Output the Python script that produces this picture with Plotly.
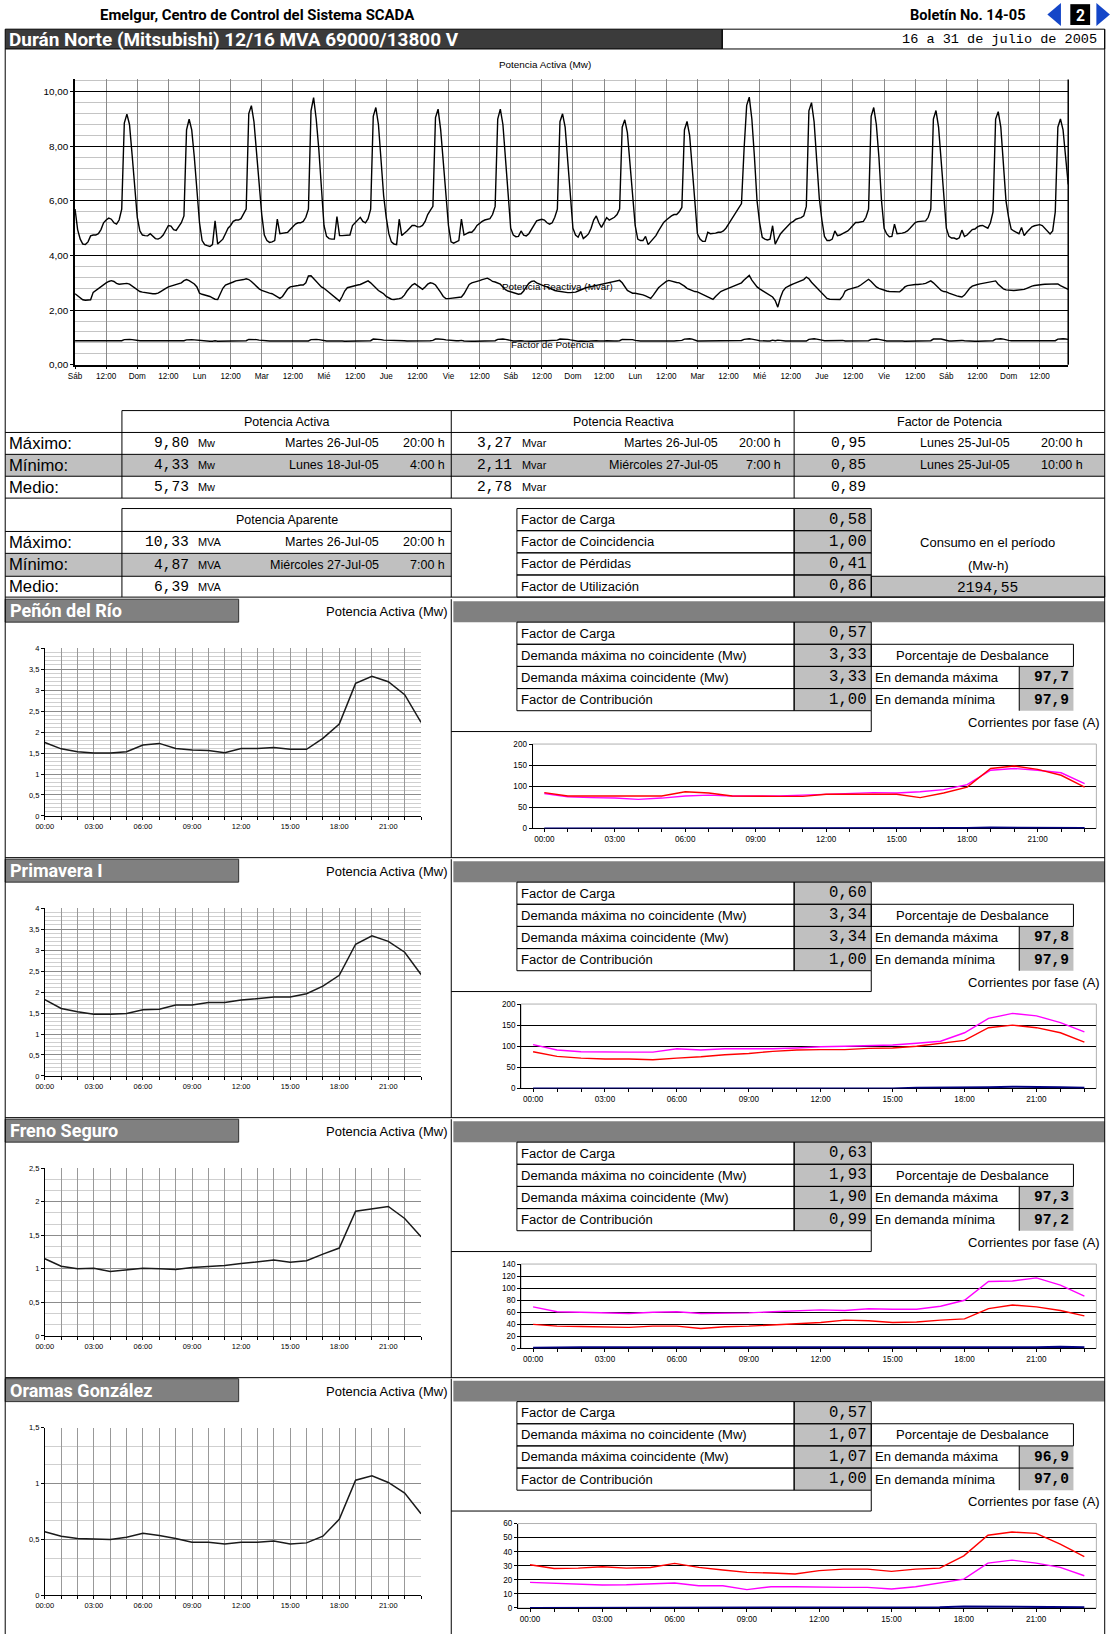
import plotly.graph_objects as go

# ============================ DATA ============================
weekday_labels = ["Sáb", "Dom", "Lun", "Mar", "Mié", "Jue", "Vie",
                  "Sáb", "Dom", "Lun", "Mar", "Mié", "Jue", "Vie", "Sáb", "Dom"]
noon_label = "12:00"

# hourly, 16 Jul 00:00 .. 31 Jul 23:00 (one row per day)
active_mw = [
    5.70, 4.95, 4.60, 4.42, 4.40, 4.50, 4.72, 4.75, 4.75, 4.80, 4.95, 5.20, 5.30, 5.37, 5.33, 5.20, 5.15, 5.30, 5.70, 8.85, 9.18, 8.80, 7.70, 6.40,
    5.40, 4.90, 4.75, 4.73, 4.72, 4.80, 4.70, 4.62, 4.60, 4.65, 4.75, 4.90, 5.10, 5.08, 4.95, 4.92, 5.05, 5.20, 5.45, 8.60, 8.99, 8.60, 7.60, 6.30,
    5.20, 4.55, 4.40, 4.36, 4.33, 4.40, 5.27, 4.42, 4.50, 4.60, 4.80, 5.00, 5.10, 5.25, 5.30, 5.30, 5.35, 5.50, 5.70, 9.20, 9.49, 8.90, 7.80, 6.40,
    5.50, 4.75, 4.55, 4.48, 4.50, 4.55, 5.33, 4.80, 4.82, 4.85, 4.85, 4.95, 5.05, 5.15, 5.20, 5.20, 5.25, 5.40, 5.70, 9.30, 9.78, 9.00, 7.90, 6.40,
    5.10, 4.70, 4.62, 4.60, 4.60, 5.43, 4.73, 4.73, 4.73, 4.73, 4.75, 5.10, 5.20, 5.30, 5.40, 5.25, 5.20, 5.35, 5.70, 9.10, 9.42, 8.80, 7.60, 6.20,
    5.40, 4.80, 4.50, 4.42, 4.40, 5.33, 4.73, 4.80, 4.90, 5.00, 5.10, 5.10, 5.05, 5.05, 5.10, 5.25, 5.50, 5.65, 5.80, 9.05, 9.36, 8.60, 7.40, 6.00,
    5.10, 4.50, 4.45, 4.50, 4.55, 5.33, 4.75, 4.80, 4.85, 4.85, 4.95, 5.10, 5.18, 5.25, 5.30, 5.33, 5.35, 5.50, 5.80, 9.00, 9.36, 8.80, 7.60, 6.20,
    5.00, 4.75, 4.69, 4.70, 4.90, 4.75, 4.72, 4.80, 4.95, 5.15, 5.27, 5.30, 5.33, 5.30, 5.20, 5.15, 5.20, 5.40, 5.70, 8.90, 9.19, 8.70, 7.50, 6.10,
    5.00, 4.75, 4.67, 4.88, 4.62, 4.70, 4.79, 5.00, 5.30, 5.45, 5.20, 5.03, 5.20, 5.39, 5.30, 5.35, 5.40, 5.50, 5.70, 8.70, 8.97, 8.50, 7.40, 6.00,
    5.10, 4.60, 4.55, 4.55, 4.70, 4.40, 4.50, 4.60, 4.73, 4.90, 5.05, 5.21, 5.30, 5.38, 5.45, 5.50, 5.50, 5.60, 5.76, 8.60, 8.91, 8.40, 7.30, 5.90,
    4.80, 4.60, 4.52, 4.52, 4.85, 4.80, 4.80, 4.82, 4.85, 4.85, 4.90, 5.00, 5.15, 5.30, 5.45, 5.60, 5.75, 5.90, 7.90, 9.50, 9.80, 9.00, 7.60, 6.00,
    5.20, 4.67, 4.60, 4.57, 4.60, 5.09, 4.42, 4.60, 4.79, 4.90, 5.00, 5.10, 5.20, 5.25, 5.33, 5.36, 5.39, 5.45, 5.80, 9.30, 9.60, 8.90, 7.60, 6.10,
    5.30, 4.70, 4.55, 4.55, 4.60, 4.90, 4.73, 4.75, 4.80, 4.85, 4.90, 5.00, 5.10, 5.21, 5.21, 5.22, 5.25, 5.40, 5.70, 9.10, 9.42, 8.80, 7.60, 6.00,
    5.00, 4.79, 4.69, 4.70, 5.15, 4.80, 4.80, 4.82, 4.85, 4.90, 5.00, 5.10, 5.21, 5.24, 5.25, 5.27, 5.27, 5.40, 5.70, 9.00, 9.31, 8.70, 7.50, 6.00,
    5.00, 4.70, 4.64, 4.64, 4.60, 4.65, 4.93, 4.70, 4.75, 4.85, 4.95, 4.97, 5.05, 5.09, 5.10, 5.05, 5.00, 5.20, 5.60, 9.00, 9.27, 8.70, 7.50, 6.00,
    5.40, 4.97, 4.90, 4.85, 4.80, 5.03, 4.73, 4.85, 4.95, 5.05, 5.09, 5.12, 5.13, 5.10, 5.00, 4.90, 4.79, 4.90, 5.60, 8.70, 9.00, 8.60, 7.50, 6.60,
]

reactive_mvar = [
    2.60, 2.52, 2.45, 2.38, 2.36, 2.37, 2.38, 2.65, 2.72, 2.82, 2.88, 2.95, 3.00, 3.05, 3.08, 3.05, 2.98, 2.95, 2.96, 2.97, 2.98, 2.95, 2.88, 2.82,
    2.72, 2.68, 2.66, 2.64, 2.62, 2.60, 2.60, 2.60, 2.62, 2.68, 2.75, 2.80, 2.85, 2.88, 2.92, 2.95, 2.98, 3.00, 3.08, 3.12, 3.08, 3.02, 2.96, 2.85,
    2.62, 2.58, 2.56, 2.54, 2.50, 2.45, 2.40, 2.39, 2.60, 2.80, 2.92, 2.95, 3.00, 3.03, 3.07, 3.08, 3.10, 3.12, 3.15, 3.12, 3.05, 2.95, 2.85, 2.78,
    2.72, 2.68, 2.65, 2.62, 2.60, 2.55, 2.48, 2.43, 2.50, 2.65, 2.78, 2.85, 2.86, 2.88, 2.90, 2.92, 2.92, 3.00, 3.25, 3.26, 3.15, 3.05, 2.92, 2.85,
    2.80, 2.72, 2.65, 2.58, 2.50, 2.42, 2.33, 2.50, 2.70, 2.82, 2.85, 2.88, 2.90, 2.92, 2.94, 2.98, 3.02, 3.07, 3.00, 2.90, 2.80, 2.72, 2.66, 2.60,
    2.50, 2.45, 2.40, 2.39, 2.40, 2.42, 2.45, 2.55, 2.70, 2.82, 2.92, 2.97, 2.90, 2.80, 2.76, 2.85, 2.95, 3.00, 2.98, 2.92, 2.80, 2.65, 2.50, 2.42,
    2.42, 2.43, 2.44, 2.45, 2.46, 2.48, 2.60, 2.80, 2.94, 3.00, 3.02, 3.05, 3.08, 3.12, 3.15, 3.17, 3.12, 3.05, 3.03, 3.00, 2.95, 2.85, 2.75, 2.70,
    2.67, 2.64, 2.60, 2.58, 2.60, 2.70, 2.85, 2.98, 3.05, 3.07, 3.00, 2.95, 2.90, 2.88, 2.85, 2.80, 2.75, 2.72, 2.70, 2.68, 2.66, 2.64, 2.64, 2.64,
    2.64, 2.66, 2.70, 2.75, 2.80, 2.82, 2.84, 2.86, 2.88, 2.90, 2.92, 2.94, 2.96, 2.98, 3.00, 3.02, 3.05, 3.08, 3.09, 3.00, 2.85, 2.72, 2.67, 2.62,
    2.62, 2.60, 2.60, 2.56, 2.52, 2.47, 2.43, 2.55, 2.70, 2.82, 2.90, 2.98, 3.05, 3.09, 3.06, 3.03, 3.01, 3.00, 2.95, 2.88, 2.80, 2.75, 2.70, 2.68,
    2.67, 2.62, 2.58, 2.52, 2.47, 2.42, 2.39, 2.50, 2.60, 2.68, 2.72, 2.76, 2.80, 2.84, 2.88, 2.90, 2.94, 3.00, 3.10, 3.20, 3.27, 3.10, 2.95, 2.85,
    2.78, 2.72, 2.67, 2.60, 2.55, 2.48, 2.35, 2.11, 2.45, 2.70, 2.82, 2.88, 2.92, 2.96, 3.00, 3.04, 3.07, 3.12, 3.21, 3.15, 3.02, 2.92, 2.82, 2.72,
    2.60, 2.50, 2.43, 2.40, 2.40, 2.39, 2.39, 2.39, 2.50, 2.70, 2.75, 2.78, 2.80, 2.82, 2.86, 2.92, 2.98, 3.05, 3.13, 3.05, 2.95, 2.85, 2.80, 2.76,
    2.72, 2.70, 2.68, 2.68, 2.67, 2.67, 2.67, 2.75, 2.85, 2.90, 2.92, 2.93, 2.94, 2.94, 2.94, 2.96, 2.98, 3.02, 3.07, 3.00, 2.90, 2.80, 2.72, 2.68,
    2.67, 2.62, 2.58, 2.55, 2.52, 2.50, 2.48, 2.55, 2.70, 2.80, 2.88, 2.92, 2.94, 2.96, 2.98, 3.00, 3.02, 3.04, 3.06, 3.07, 2.95, 2.85, 2.78, 2.74,
    2.73, 2.72, 2.72, 2.73, 2.74, 2.75, 2.76, 2.80, 2.85, 2.88, 2.90, 2.92, 2.94, 2.94, 2.95, 2.95, 2.94, 2.94, 2.94, 2.96, 2.90, 2.85, 2.80, 2.76,
]

power_factor = [
    0.88, 0.88, 0.87, 0.87, 0.87, 0.87, 0.87, 0.87, 0.87, 0.87, 0.86, 0.86, 0.87, 0.87, 0.87, 0.87, 0.87, 0.87, 0.88, 0.92, 0.93, 0.93, 0.92, 0.90,
    0.89, 0.88, 0.88, 0.88, 0.88, 0.88, 0.88, 0.88, 0.87, 0.87, 0.87, 0.87, 0.87, 0.87, 0.87, 0.86, 0.86, 0.87, 0.88, 0.91, 0.92, 0.92, 0.91, 0.90,
    0.89, 0.87, 0.86, 0.86, 0.86, 0.86, 0.88, 0.86, 0.86, 0.86, 0.86, 0.86, 0.86, 0.86, 0.87, 0.87, 0.87, 0.87, 0.88, 0.93, 0.93, 0.93, 0.92, 0.90,
    0.89, 0.87, 0.87, 0.87, 0.87, 0.87, 0.88, 0.87, 0.87, 0.87, 0.87, 0.87, 0.87, 0.87, 0.87, 0.87, 0.87, 0.87, 0.87, 0.92, 0.93, 0.93, 0.92, 0.90,
    0.88, 0.87, 0.87, 0.87, 0.88, 0.89, 0.88, 0.87, 0.86, 0.86, 0.86, 0.87, 0.87, 0.87, 0.87, 0.87, 0.86, 0.86, 0.88, 0.94, 0.94, 0.94, 0.92, 0.90,
    0.90, 0.89, 0.88, 0.88, 0.88, 0.89, 0.88, 0.88, 0.87, 0.87, 0.87, 0.86, 0.87, 0.87, 0.88, 0.88, 0.88, 0.88, 0.89, 0.94, 0.94, 0.94, 0.93, 0.91,
    0.90, 0.88, 0.88, 0.88, 0.88, 0.89, 0.87, 0.86, 0.86, 0.86, 0.86, 0.86, 0.86, 0.86, 0.86, 0.86, 0.86, 0.87, 0.88, 0.93, 0.94, 0.94, 0.93, 0.91,
    0.88, 0.87, 0.87, 0.88, 0.88, 0.87, 0.86, 0.86, 0.86, 0.86, 0.87, 0.87, 0.88, 0.88, 0.88, 0.88, 0.88, 0.89, 0.90, 0.94, 0.94, 0.94, 0.93, 0.91,
    0.89, 0.87, 0.86, 0.87, 0.86, 0.86, 0.86, 0.87, 0.88, 0.88, 0.87, 0.86, 0.87, 0.88, 0.87, 0.87, 0.87, 0.87, 0.88, 0.93, 0.93, 0.94, 0.93, 0.92,
    0.89, 0.87, 0.87, 0.87, 0.88, 0.87, 0.87, 0.87, 0.86, 0.86, 0.85, 0.86, 0.86, 0.86, 0.87, 0.87, 0.88, 0.88, 0.89, 0.94, 0.95, 0.95, 0.94, 0.91,
    0.87, 0.87, 0.87, 0.87, 0.89, 0.89, 0.89, 0.88, 0.88, 0.88, 0.87, 0.87, 0.88, 0.88, 0.88, 0.89, 0.89, 0.89, 0.93, 0.95, 0.95, 0.94, 0.93, 0.90,
    0.88, 0.87, 0.86, 0.87, 0.87, 0.90, 0.88, 0.90, 0.89, 0.87, 0.87, 0.87, 0.87, 0.87, 0.87, 0.87, 0.87, 0.87, 0.87, 0.93, 0.95, 0.95, 0.94, 0.91,
    0.90, 0.88, 0.88, 0.88, 0.89, 0.90, 0.89, 0.89, 0.89, 0.87, 0.87, 0.87, 0.88, 0.88, 0.88, 0.87, 0.87, 0.87, 0.88, 0.93, 0.94, 0.94, 0.93, 0.91,
    0.88, 0.87, 0.87, 0.87, 0.89, 0.87, 0.87, 0.87, 0.86, 0.86, 0.86, 0.86, 0.87, 0.87, 0.87, 0.87, 0.87, 0.87, 0.88, 0.94, 0.95, 0.94, 0.94, 0.91,
    0.88, 0.87, 0.87, 0.88, 0.88, 0.88, 0.89, 0.88, 0.87, 0.87, 0.86, 0.86, 0.86, 0.86, 0.86, 0.86, 0.86, 0.86, 0.88, 0.94, 0.95, 0.95, 0.94, 0.91,
    0.89, 0.88, 0.88, 0.87, 0.87, 0.88, 0.86, 0.87, 0.87, 0.87, 0.87, 0.87, 0.87, 0.87, 0.86, 0.86, 0.86, 0.86, 0.88, 0.94, 0.95, 0.95, 0.94, 0.93,
]

# summary tables
summary_row_labels = ["Máximo:", "Mínimo:", "Medio:"]
activa_values = [9.80, 4.33, 5.73]
activa_dates = ["Martes 26-Jul-05", "Lunes 18-Jul-05", ""]
activa_times = ["20:00 h", "4:00 h", ""]
reactiva_values = [3.27, 2.11, 2.78]
reactiva_dates = ["Martes 26-Jul-05", "Miércoles 27-Jul-05", ""]
reactiva_times = ["20:00 h", "7:00 h", ""]
fp_values = [0.95, 0.85, 0.89]
fp_dates = ["Lunes 25-Jul-05", "Lunes 25-Jul-05", ""]
fp_times = ["20:00 h", "10:00 h", ""]
aparente_values = [10.33, 4.87, 6.39]
aparente_dates = ["Martes 26-Jul-05", "Miércoles 27-Jul-05", ""]
aparente_times = ["20:00 h", "7:00 h", ""]
factor_labels = ["Factor de Carga", "Factor de Coincidencia", "Factor de Pérdidas", "Factor de Utilización"]
factor_values = [0.58, 1.00, 0.41, 0.86]
consumo_mwh = 2194.55

# feeders
feeder_names = ["Peñón del Río", "Primavera I", "Freno Seguro", "Oramas González"]
feeder_stat_labels = ["Factor de Carga", "Demanda máxima no coincidente (Mw)",
                      "Demanda máxima coincidente (Mw)", "Factor de Contribución"]
feeder_factor_carga = [0.57, 0.60, 0.63, 0.57]
feeder_dem_no_coinc = [3.33, 3.34, 1.93, 1.07]
feeder_dem_coinc = [3.33, 3.34, 1.90, 1.07]
feeder_factor_contrib = [1.00, 1.00, 0.99, 1.00]
feeder_desb_max = [97.7, 97.8, 97.3, 96.9]
feeder_desb_min = [97.9, 97.9, 97.2, 97.0]

hours_of_day = list(range(24))
hour_tick_labels = ["00:00", "03:00", "06:00", "09:00", "12:00", "15:00", "18:00", "21:00"]

penon_mw = [1.75, 1.60, 1.53, 1.50, 1.50, 1.53, 1.69, 1.73, 1.61, 1.57, 1.56, 1.51,
            1.61, 1.61, 1.63, 1.59, 1.59, 1.85, 2.19, 3.16, 3.33, 3.20, 2.89, 2.23]
primavera_mw = [1.82, 1.61, 1.53, 1.47, 1.47, 1.49, 1.58, 1.59, 1.69, 1.69, 1.75, 1.75,
                1.81, 1.85, 1.88, 1.88, 1.96, 2.14, 2.40, 3.14, 3.34, 3.21, 2.95, 2.42]
freno_mw = [1.15, 1.04, 1.00, 1.01, 0.96, 0.99, 1.01, 1.00, 0.99, 1.02, 1.03, 1.05,
            1.08, 1.11, 1.13, 1.10, 1.12, 1.22, 1.31, 1.86, 1.90, 1.93, 1.75, 1.48]
oramas_mw = [0.57, 0.53, 0.51, 0.505, 0.50, 0.52, 0.555, 0.535, 0.51, 0.475, 0.475, 0.46,
             0.475, 0.475, 0.487, 0.46, 0.47, 0.53, 0.68, 1.03, 1.07, 1.01, 0.915, 0.73]

penon_i_red = [85, 77, 77, 77, 77, 77, 87, 84, 77, 76, 76, 76, 81, 81, 81, 81, 73, 84, 98, 142, 148, 140, 126, 98]
penon_i_mag = [83, 75, 73, 72, 69, 72, 77, 79, 77, 77, 77, 79, 81, 83, 85, 84, 87, 92, 104, 138, 142, 138, 132, 106]
penon_i_blue = [0, 0, 0, 0, 0, 0, 0, 0, 0, 0, 0, 0, 0, 0, 0, 0, 0, 1, 1, 2, 2, 2, 2, 1]
primavera_i_red = [87, 76, 72, 70, 70, 68, 72, 75, 80, 83, 88, 91, 92, 92, 95, 96, 100, 107, 114, 144, 150, 144, 132, 110]
primavera_i_mag = [104, 91, 87, 86, 86, 86, 94, 91, 94, 94, 94, 96, 99, 100, 102, 103, 107, 112, 132, 166, 178, 172, 156, 134]
primavera_i_blue = [0, 0, 0, 0, 0, 0, 0, 0, 0, 0, 0, 0, 0, 0, 0, 0, 2, 2, 2, 3, 4, 4, 3, 2]
freno_i_red = [40, 37, 36.5, 36, 35, 37, 37, 33, 36, 37, 39, 40, 43, 47, 46, 43, 44, 47, 49, 66, 72, 69, 63, 54]
freno_i_mag = [69, 61, 60, 59, 58, 60, 61, 58, 58, 59, 61, 63, 64, 63, 66, 65, 65, 70, 80, 111, 112, 117, 105, 87]
freno_i_blue = [1, 2, 2, 2, 2, 1, 2, 2, 2, 1, 1, 1, 1, 1, 1, 1, 1, 1, 2, 2, 1, 2, 3, 2]
oramas_i_red = [30.7, 28, 28.3, 29.3, 28.3, 28.8, 31.7, 28.8, 27, 25.3, 24.8, 24.1,
                26.5, 27.6, 27.6, 26, 27.6, 28.3, 37, 51.7, 54, 53, 45.4, 36.4]
oramas_i_mag = [18.2, 17.5, 17, 16.3, 16.5, 17, 17.7, 15.8, 15.8, 13, 15.1, 15.1,
                14.6, 14.6, 14.6, 13.5, 15.1, 17.7, 20.5, 31.9, 34, 31.9, 28.8, 22.9]
oramas_i_blue = [0, 0, 0, 0, 0, 0, 0, 0, 0, 0, 0, 0, 0, 0, 0, 0, 0, 0.5, 1, 1, 1, 1, 1, 0.5]

feeder_power = [penon_mw, primavera_mw, freno_mw, oramas_mw]
feeder_currents = [(penon_i_red, penon_i_mag, penon_i_blue),
                   (primavera_i_red, primavera_i_mag, primavera_i_blue),
                   (freno_i_red, freno_i_mag, freno_i_blue),
                   (oramas_i_red, oramas_i_mag, oramas_i_blue)]

# ============================ LAYOUT HELPERS ============================
W, H = 1112, 1634
SW, SH = 1067.0, 1568.0
SC = W / SW
FONT_SANS = "Liberation Sans, Arial, Helvetica, sans-serif"
FONT_MONO = "Liberation Mono, Courier New, monospace"
FONT_HEAD = "Roboto, Liberation Sans, sans-serif"
GRAY = "#c0c0c0"
BAR = "#808080"


def fx(s):
    return s / SW


def fy(s):
    return 1.0 - s / SH


def fs(s):
    return round(s * SC, 2)


def fmt(v, d=2):
    return f"{v:.{d}f}".replace(".", ",")


def fmt_trim(v):
    return f"{v:g}".replace(".", ",")


shapes, annots = [], []


def rect(x0, y0, x1, y1, fill=None, lc="black", lw=1, layer="below"):
    shapes.append(dict(type="rect", xref="paper", yref="paper",
                       x0=fx(x0), x1=fx(x1), y0=fy(y1), y1=fy(y0),
                       fillcolor=fill if fill else "rgba(0,0,0,0)",
                       line=dict(color=lc if lc else "rgba(0,0,0,0)", width=lw if lc else 0),
                       layer=layer))


def seg(x0, y0, x1, y1, lc="black", lw=1, layer="above"):
    shapes.append(dict(type="line", xref="paper", yref="paper",
                       x0=fx(x0), x1=fx(x1), y0=fy(y0), y1=fy(y1),
                       line=dict(color=lc, width=lw), layer=layer))


def tri(points, color):
    path = "M " + " L ".join(f"{fx(x):.5f},{fy(y):.5f}" for x, y in points) + " Z"
    shapes.append(dict(type="path", xref="paper", yref="paper", path=path,
                       fillcolor=color, line=dict(width=0), layer="above"))


def txt(x, y, s, size, family=FONT_SANS, color="black", anchor="left", bold=False):
    if bold:
        s = f"<b>{s}</b>"
    annots.append(dict(xref="paper", yref="paper", x=fx(x), y=fy(y), text=s,
                       showarrow=False, xanchor=anchor, yanchor="middle",
                       font=dict(size=fs(size), family=family, color=color),
                       borderpad=0))


axes = {}
traces = []
_n = [0]


def new_axes(x0, x1, ytop, ybot, xcfg, ycfg):
    _n[0] += 1
    sfx = "" if _n[0] == 1 else str(_n[0])
    axes["xaxis" + sfx] = dict(domain=[fx(x0), fx(x1)], anchor="y" + sfx, fixedrange=True,
                               zeroline=False, automargin=False, **xcfg)
    axes["yaxis" + sfx] = dict(domain=[fy(ybot), fy(ytop)], anchor="x" + sfx, fixedrange=True,
                               zeroline=False, automargin=False, **ycfg)
    return "x" + sfx, "y" + sfx


# ============================ HEADER ============================
txt(247, 14, "Emelgur, Centro de Control del Sistema SCADA", 14.3, FONT_HEAD, anchor="center", bold=True)
txt(985, 14, "Boletín No. 14-05", 14, FONT_HEAD, anchor="right", bold=True)
tri([(1005, 14), (1018, 3), (1018, 25)], "#1446c8")
rect(1027, 4, 1046, 24, fill="black", lc=None, layer="above")
txt(1036.5, 14.5, "2", 15, FONT_HEAD, color="white", anchor="center", bold=True)
tri([(1052, 3), (1052, 25), (1065, 14)], "#1446c8")

rect(5, 28, 693, 47, fill="#3b3b3b", lc="black")
txt(8, 37.5, "Durán Norte (Mitsubishi) 12/16 MVA 69000/13800 V", 18.2, FONT_HEAD, color="white", bold=True)
rect(693, 28, 1060, 47, lc="black")
txt(1054, 38, "16 a 31 de julio de 2005", 13, FONT_MONO, anchor="right")
seg(5, 47, 5, 1568)
seg(1060, 28, 1060, 1568)

# ============================ MAIN CHART ============================
main_hours = list(range(len(active_mw)))
main_tickvals = [12 * i for i in range(2 * len(weekday_labels))]
main_ticktext = []
for d in weekday_labels:
    main_ticktext += [d, noon_label]
main_top = 350 - 10.45 * 26.2
mx, my = new_axes(
    72, 1025, main_top, 350,
    dict(range=[0, 383], tickmode="array", tickvals=main_tickvals, ticktext=main_ticktext,
         showgrid=True, gridcolor="#8a8a8a", gridwidth=1, showline=True, linecolor="black",
         linewidth=1.5, ticks="outside", ticklen=3, tickcolor="black",
         tickfont=dict(size=fs(7.8), family=FONT_SANS)),
    dict(range=[0, 10.45], tickmode="array", tickvals=[0, 2, 4, 6, 8, 10],
         ticktext=[fmt(v) for v in [0, 2, 4, 6, 8, 10]],
         showgrid=True, gridcolor="black", gridwidth=1,
         minor=dict(tickmode="array", tickvals=[round(0.4 * k, 2) for k in range(27)],
                    showgrid=True, gridcolor="#c4c4c4", gridwidth=1),
         showline=True, linecolor="black", linewidth=1.5, ticks="outside", ticklen=3,
         tickcolor="black", tickfont=dict(size=fs(9.5), family=FONT_SANS)))
for series in (active_mw, reactive_mvar, power_factor):
    traces.append(go.Scatter(x=main_hours, y=series, mode="lines", xaxis=mx, yaxis=my,
                             line=dict(color="black", width=1.4), hoverinfo="skip"))
seg(1025, main_top, 1025, 350, lw=1.5)
txt(523, 62, "Potencia Activa (Mw)", 9.5, anchor="center")
txt(535, 275, "Potencia Reactiva (Mvar)", 9.5, anchor="center")
txt(530, 331, "Factor de Potencia", 9.5, anchor="center")

# ============================ SUMMARY TABLE 1 ============================
rect(5, 436, 1060, 457, fill=GRAY, lc=None)
seg(117, 394, 1060, 394)
for yy in (415, 436, 457, 478):
    seg(5, yy, 1060, yy)
for xx in (117, 433, 762):
    seg(xx, 394, xx, 478)
txt(275, 405, "Potencia Activa", 12, anchor="center")
txt(598, 405, "Potencia Reactiva", 12, anchor="center")
txt(911, 405, "Factor de Potencia", 12, anchor="center")
for r in range(3):
    yc = 425.5 + 21 * r
    txt(8, yc, summary_row_labels[r], 16)
    txt(182, yc, fmt(activa_values[r]), 14, FONT_MONO, anchor="right")
    txt(189, yc, "Mw", 10.5)
    txt(365, yc, activa_dates[r], 12, anchor="right")
    txt(428, yc, activa_times[r], 12, anchor="right")
    txt(492, yc, fmt(reactiva_values[r]), 14, FONT_MONO, anchor="right")
    txt(500, yc, "Mvar", 10.5)
    txt(690, yc, reactiva_dates[r], 12, anchor="right")
    txt(750, yc, reactiva_times[r], 12, anchor="right")
    txt(832, yc, fmt(fp_values[r]), 14, FONT_MONO, anchor="right")
    txt(970, yc, fp_dates[r], 12, anchor="right")
    txt(1040, yc, fp_times[r], 12, anchor="right")

# ============================ SUMMARY TABLE 2 ============================
rect(5, 531, 433, 553, fill=GRAY, lc=None)
rect(117, 488, 433, 510, lc="black", layer="above")
for yy in (510, 531, 553):
    seg(5, yy, 433, yy)
seg(117, 510, 117, 573)
seg(433, 510, 433, 573)
txt(275, 499, "Potencia Aparente", 12, anchor="center")
for r in range(3):
    yc = 520.5 + 21.3 * r
    txt(8, yc, summary_row_labels[r], 16)
    txt(182, yc, fmt(aparente_values[r]), 14, FONT_MONO, anchor="right")
    txt(189, yc, "MVA", 10.5)
    txt(365, yc, aparente_dates[r], 12, anchor="right")
    txt(428, yc, aparente_times[r], 12, anchor="right")
for r in range(4):
    y0 = 488 + 21.25 * r
    y1 = y0 + 21.25
    rect(762, y0, 836, y1, fill=GRAY, lc=None)
    rect(496, y0, 762, y1, lc="black", layer="above")
    rect(762, y0, 836, y1, lc="black", layer="above")
    txt(499, (y0 + y1) / 2, factor_labels[r], 12.5)
    txt(833, (y0 + y1) / 2, fmt(factor_values[r]), 15, FONT_MONO, anchor="right")
txt(948, 521, "Consumo en el período", 12.5, anchor="center")
txt(948, 543, "(Mw-h)", 12.5, anchor="center")
rect(836, 553, 1060, 573, fill=GRAY, lc="black")
txt(948, 564, fmt(consumo_mwh), 14, FONT_MONO, anchor="center")
seg(5, 573, 1060, 573)

# ============================ FEEDER SECTIONS ============================
section_tops = [575, 824.5, 1074, 1323]
small_ymax = [4, 4, 2.5, 1.5]
small_minor = [0.1, 0.1, 0.5 / 3, 0.5 / 3]
cur_ymax = [200, 200, 140, 60]
cur_dtick = [50, 50, 20, 10]
cur_left = [511, 500, 500, 497]
hour_text = [hour_tick_labels[h // 3] if h % 3 == 0 else "" for h in hours_of_day]

for i, T in enumerate(section_tops):
    # headers
    rect(5, T, 229, T + 22, fill=BAR, lc="#303030")
    txt(9, T + 11, feeder_names[i], 17.3, FONT_HEAD, color="white", bold=True)
    txt(431, T + 12, "Potencia Activa (Mw)", 12.5, anchor="right")
    rect(435, T + 2, 1060, T + 22, fill=BAR, lc=None)
    seg(433, T, 433, T + 248)
    if i < 3:
        seg(5, T + 248, 1060, T + 248)

    # stats table
    vals = [feeder_factor_carga[i], feeder_dem_no_coinc[i], feeder_dem_coinc[i], feeder_factor_contrib[i]]
    for r in range(4):
        y0 = T + 22 + 21.25 * r
        y1 = y0 + 21.25
        rect(762, y0, 836, y1, fill=GRAY, lc=None)
        rect(496, y0, 762, y1, lc="black", layer="above")
        rect(762, y0, 836, y1, lc="black", layer="above")
        txt(499, (y0 + y1) / 2, feeder_stat_labels[r], 12.5)
        txt(833, (y0 + y1) / 2, fmt(vals[r]), 15, FONT_MONO, anchor="right")
    rect(836, T + 43.25, 1030, T + 64.5, lc="black", layer="above")
    txt(933, T + 54, "Porcentaje de Desbalance", 12.5, anchor="center")
    rect(978, T + 64.5, 1030, T + 107, fill=GRAY, lc=None)
    seg(836, T + 85.75, 1030, T + 85.75)
    seg(978, T + 64.5, 978, T + 107)
    txt(839, T + 75, "En demanda máxima", 12.5)
    txt(839, T + 96.5, "En demanda mínima", 12.5)
    txt(1027, T + 75, fmt(feeder_desb_max[i], 1), 14, FONT_MONO, anchor="right", bold=True)
    txt(1027, T + 96.5, fmt(feeder_desb_min[i], 1), 14, FONT_MONO, anchor="right", bold=True)
    seg(433, T + 127, 836, T + 127)
    seg(836, T + 107, 836, T + 127)
    txt(1056, T + 118, "Corrientes por fase (A)", 12.5, anchor="right")

    # active-power chart
    ym = small_ymax[i]
    majors = [k * 0.5 for k in range(int(round(ym / 0.5)) + 1)]
    minors = [round(k * small_minor[i], 4) for k in range(int(round(ym / small_minor[i])) + 1)]
    sx, sy = new_axes(
        43, 404, T + 47, T + 208,
        dict(range=[0, 23], tickmode="array", tickvals=hours_of_day, ticktext=hour_text,
             showgrid=True, gridcolor="#999999", gridwidth=1, showline=True, linecolor="black",
             linewidth=1, ticks="outside", ticklen=3, tickcolor="black",
             tickfont=dict(size=fs(7.2), family=FONT_SANS)),
        dict(range=[0, ym], tickmode="array", tickvals=majors, ticktext=[fmt_trim(v) for v in majors],
             showgrid=True, gridcolor="#8c8c8c", gridwidth=1.2,
             minor=dict(tickmode="array", tickvals=minors, showgrid=True, gridcolor="#cfcfcf", gridwidth=1),
             showline=True, linecolor="black", linewidth=1, ticks="outside", ticklen=3,
             tickcolor="black", tickfont=dict(size=fs(7.2), family=FONT_SANS)))
    traces.append(go.Scatter(x=hours_of_day, y=feeder_power[i], mode="lines", xaxis=sx, yaxis=sy,
                             line=dict(color="#1a1a1a", width=1.5), hoverinfo="skip"))

    # phase-current chart
    cm = cur_ymax[i]
    cx, cy = new_axes(
        cur_left[i], 1052, T + 139, T + 220,
        dict(range=[-0.5, 23.5], tickmode="array", tickvals=hours_of_day, ticktext=hour_text,
             showgrid=False, showline=True, linecolor="black", linewidth=1, ticks="outside",
             ticklen=3, tickcolor="black", layer="below traces",
             tickfont=dict(size=fs(7.8), family=FONT_SANS)),
        dict(range=[0, cm], tickmode="linear", tick0=0, dtick=cur_dtick[i], showgrid=True,
             gridcolor="black", gridwidth=1, showline=True, linecolor="black", linewidth=1,
             ticks="outside", ticklen=3, tickcolor="black", layer="below traces",
             tickfont=dict(size=fs(7.8), family=FONT_SANS)))
    rect(cur_left[i], T + 139, 1052, T + 220, lc="#b0b0b0", lw=1)
    red, mag, blue = feeder_currents[i]
    for ser, col, wd in ((blue, "#000080", 2), (mag, "#ff00ff", 1.4), (red, "#ff0000", 1.4)):
        traces.append(go.Scatter(x=hours_of_day, y=ser, mode="lines", xaxis=cx, yaxis=cy,
                                 line=dict(color=col, width=wd), hoverinfo="skip"))

# ============================ FIGURE ============================
fig = go.Figure(data=traces)
fig.update_layout(
    width=W, height=H, autosize=False,
    margin=dict(l=0, r=0, t=0, b=0, pad=0, autoexpand=False),
    paper_bgcolor="white", plot_bgcolor="rgba(0,0,0,0)",
    showlegend=False, separators=",.",
    font=dict(family=FONT_SANS, color="black"),
    shapes=shapes, annotations=annots,
    **axes,
)
fig.write_html("out.html", config=dict(displayModeBar=False),
               post_script="document.body.style.margin='0';document.body.style.padding='0';")
